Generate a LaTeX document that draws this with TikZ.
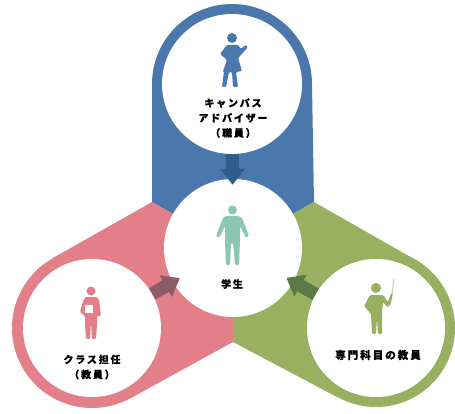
\documentclass[tikz,border=0pt]{standalone}
\usepackage{fontspec}
\newfontfamily\jpfont[LetterSpace=18,FakeBold=0.6]{Noto Sans CJK JP}
\usetikzlibrary{arrows.meta}
\definecolor{advblue}{HTML}{4A78AC}
\definecolor{advdark}{HTML}{2F5C88}
\definecolor{classpink}{HTML}{E37F88}
\definecolor{classdark}{HTML}{8C5C66}
\definecolor{majgreen}{HTML}{98B060}
\definecolor{majdark}{HTML}{5B7A45}
\definecolor{stuteal}{HTML}{8CC7B4}
\tikzset{
  hole/.style={circle, fill=white, minimum size=138pt, inner sep=0pt},
  label/.style={font=\jpfont\bfseries\fontsize{10}{15}\selectfont, align=center, text=black, inner sep=0pt},
  flow/.style={line width=13pt, -{Triangle[width=24pt,length=16pt]}},
  figure/.style={rounded corners=1.2pt}
}
\begin{document}
\begin{tikzpicture}[x=1pt, y=-1pt]
    \useasboundingbox (0,0) rectangle (455,414);

    % three coloured bands
    \fill[advblue] (232,84) circle (80pt);
    \fill[advblue] (152,84) -- (312,84) -- (314,202) -- (233,248) -- (152,202) -- cycle;
    \fill[classpink] (92,328) circle (80pt);
    \fill[classpink] (152,202) -- (53,258) -- (131,398) -- (233,342) -- (233,248) -- cycle;
    \fill[majgreen] (376,328) circle (79pt);
    \fill[majgreen] (314,202) -- (414,259) -- (337,397) -- (233,342) -- (233,248) -- cycle;

    % white circles
    \node[hole, minimum size=140pt] (adviser) at (232,84) {};
    \node[hole] (student) at (233,248) {};
    \node[hole] (teacher) at (92,328) {};
    \node[hole] (major)   at (376,328) {};

    % arrows to the student
    \draw[flow, advdark, shorten >=-6pt]    (adviser) -- (student);
    \draw[flow, classdark, shorten >=-8pt]  (teacher) -- (student);
    \draw[flow, majdark, shorten >=-8pt]    (major) -- (student);

    % labels
    \node[label] (adviserlabel) at (233,118) {キャンパス\\アドバイザー\\（職員）};
    \node[label] (studentlabel) at (232,284) {学生};
    \node[label] (teacherlabel) at (92,367) {クラス担任\\（教員）};
    \node[label, font=\jpfont\bfseries\fontsize{10.6}{15}\selectfont] (majorlabel) at (378,355) {専門科目の教員};

    % adviser figure
    \fill[advblue] (232,38) circle (5pt);
    \fill[advblue, figure] (227,45) -- (238,45) -- (241,49) -- (245,45) -- (248,47) -- (241,55) -- (238,58)
      -- (242,71) -- (236,72) -- (238,87) -- (233,87) -- (232,72) -- (229,72) -- (226,87) -- (222,87)
      -- (224,71) -- (223,71) -- (227,60) -- (220,54) -- cycle;

    % student figure
    \fill[stuteal] (232.5,210) circle (4.5pt);
    \fill[stuteal, figure] (226,216) -- (239,216) -- (242,218) -- (249,236) -- (246,238) -- (240,226)
      -- (240,241) -- (239,265) -- (235,265) -- (233,243) -- (231,243) -- (230,265) -- (226,265)
      -- (225,241) -- (225,226) -- (219,238) -- (216,236) -- (223,218) -- cycle;

    % class teacher figure
    \fill[classpink] (91,291) circle (4.5pt);
    \fill[classpink, figure] (85,297) -- (97,297) -- (99,300) -- (101,316) -- (97,316) -- (97,325)
      -- (96,339) -- (92,339) -- (91,322) -- (90,339) -- (86,339) -- (85,325) -- (85,316) -- (80,312)
      -- (82,304) -- cycle;
    \fill[white] (85,305) rectangle (93,313);

    % major teacher figure
    \fill[majgreen] (376,288) circle (5pt);
    \fill[majgreen, figure] (370,295) -- (383,295) -- (388,302) -- (391,293) -- (393,294) -- (390,306)
      -- (387,307) -- (383,302) -- (382,312) -- (382,334) -- (378,334) -- (377,318) -- (376,334)
      -- (372,334) -- (371,314) -- (364,306) -- cycle;
    \draw[majgreen!60, line width=1pt] (392,294) -- (394,279);
\end{tikzpicture}
\end{document}
